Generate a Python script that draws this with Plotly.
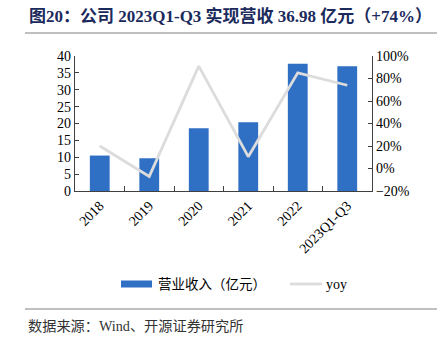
import plotly.graph_objects as go

categories = ["2018", "2019", "2020", "2021", "2022", "2023Q1-Q3"]
revenue = [10.5, 9.7, 18.6, 20.4, 37.7, 36.98]
yoy = [20, -7, 91, 10.5, 85, 74]

series_names = ["营业收入（亿元）", "yoy"]
title_text = "<b>图20：公司 2023Q1-Q3 实现营收 36.98 亿元（+74%）</b>"
source_text = "数据来源：Wind、开源证券研究所"

BAR_COLOR = "#2F6FC4"
LINE_COLOR = "#DCDCDC"

W, H = 441, 347
L, R, T, B = 75, 69, 56, 156
pw, ph = W - L - R, H - T - B

def px(x):
    return (x - L) / pw

def py(y):
    return (H - B - y) / ph

serif = "Liberation Serif, Noto Sans CJK SC, serif"

fig = go.Figure()
fig.add_trace(go.Bar(
    x=categories, y=revenue, name=series_names[0],
    marker=dict(color=BAR_COLOR, line=dict(width=0)), width=0.4,
    yaxis="y",
))
fig.add_trace(go.Scatter(
    x=categories, y=yoy, name=series_names[1], mode="lines",
    line=dict(color=LINE_COLOR, width=2.8), yaxis="y2",
))

fig.update_layout(
    width=W, height=H,
    margin=dict(l=L, r=R, t=T, b=B, pad=0),
    paper_bgcolor="white", plot_bgcolor="white",
    font=dict(family=serif, size=14, color="#000000"),
    showlegend=False,
    xaxis=dict(
        type="category", showline=True, linecolor="#404040", linewidth=1.2,
        ticks="inside", ticklen=5, tickcolor="#404040", tickson="boundaries",
        tickangle=-45, tickfont=dict(family=serif, size=14),
        showgrid=False, zeroline=False,
    ),
    yaxis=dict(
        range=[0, 40], dtick=5, showline=True, linecolor="#404040", linewidth=1.2,
        ticks="inside", ticklen=4, tickcolor="#404040", showgrid=False, zeroline=False,
        tickfont=dict(family=serif, size=14),
    ),
    yaxis2=dict(
        range=[-20, 100], dtick=20, overlaying="y", side="right", ticksuffix="%",
        showline=True, linecolor="#404040", linewidth=1.2,
        ticks="inside", ticklen=4, tickcolor="#404040", showgrid=False, zeroline=False,
        tickfont=dict(family=serif, size=14),
    ),
    bargap=0.6,
)

# custom legend (wide bar swatch like the reference)
fig.add_shape(type="rect", xref="paper", yref="paper", x0=px(121), x1=px(152),
              y0=py(280.5), y1=py(287.5), fillcolor=BAR_COLOR, line=dict(width=0))
fig.add_annotation(text=series_names[0], xref="paper", yref="paper", x=px(156), y=py(284),
                   xanchor="left", yanchor="middle", showarrow=False,
                   font=dict(family=serif, size=13.5, color="#000"))
fig.add_shape(type="line", xref="paper", yref="paper", x0=px(290), x1=px(322),
              y0=py(284), y1=py(284), line=dict(color=LINE_COLOR, width=2.8))
fig.add_annotation(text=series_names[1], xref="paper", yref="paper", x=px(324), y=py(284),
                   xanchor="left", yanchor="middle", showarrow=False,
                   font=dict(family=serif, size=14, color="#000"))

fig.add_annotation(text=title_text, xref="paper", yref="paper", x=px(27), y=py(16),
                   xanchor="left", yanchor="middle", showarrow=False,
                   font=dict(family=serif, size=17, color="#1B2A5C"))
fig.add_annotation(text=source_text, xref="paper", yref="paper", x=px(26), y=py(326),
                   xanchor="left", yanchor="middle", showarrow=False,
                   font=dict(family=serif, size=14.2, color="#333333"))
fig.add_shape(type="line", xref="paper", yref="paper", x0=px(25), x1=px(437),
              y0=py(33), y1=py(33), line=dict(color="#808080", width=1))
fig.add_shape(type="line", xref="paper", yref="paper", x0=px(25), x1=px(437),
              y0=py(309), y1=py(309), line=dict(color="#808080", width=1))

fig.write_html("out.html")
